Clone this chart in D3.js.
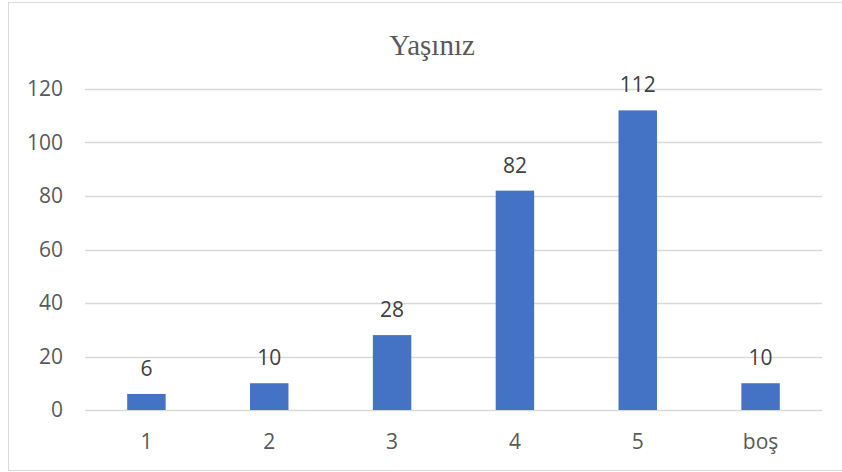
<!DOCTYPE html>
<html>
<head>
<meta charset="utf-8">
<script src="https://cdn.jsdelivr.net/npm/d3@7"></script>
<style>
  body { margin: 0; background: #fff; }
  svg { display: block; }
</style>
</head>
<body>
<div id="chart"></div>
<script>
// data
var categories = ["1", "2", "3", "4", "5", "boş"];
var counts = [6, 10, 28, 82, 112, 10];
var yTicks = [0, 20, 40, 60, 80, 100, 120];
var title = "Yaşınız";

var outerWidth = 842, outerHeight = 472;
var margin = {top: 89, right: 20, bottom: 62, left: 85};
var width = 822 - margin.left,
    height = 410 - margin.top;

var svg = d3.select("#chart").append("svg")
    .attr("width", outerWidth)
    .attr("height", outerHeight);

// chart border
svg.append("rect")
    .attr("x", 8.5).attr("y", 2.5)
    .attr("width", 850).attr("height", 468)
    .attr("fill", "none")
    .attr("stroke", "#d9d9d9")
    .attr("stroke-width", 1);

svg.append("text")
    .attr("x", 432)
    .attr("y", 55)
    .attr("text-anchor", "middle")
    .attr("font-family", "'Liberation Serif', 'Times New Roman', serif")
    .attr("font-size", 29)
    .attr("fill", "#595959")
    .text(title);

var g = svg.append("g")
    .attr("transform", "translate(" + margin.left + "," + margin.top + ")");

//////// SCALES ////////
var xScale = d3.scaleBand()
    .domain(categories)
    .range([0, width])
    .paddingInner(0.687)
    .paddingOuter(0.3435);

var yScale = d3.scaleLinear()
    .domain([0, 120])
    .range([height, 0]);

// gridlines
g.append("g")
    .attr("class", "grid")
    .selectAll("line")
    .data(yTicks)
    .enter().append("line")
        .attr("x1", 0)
        .attr("x2", width)
        .attr("y1", function(d) { return Math.round(yScale(d)) + 0.5; })
        .attr("y2", function(d) { return Math.round(yScale(d)) + 0.5; })
        .attr("stroke", "#d9d9d9")
        .attr("stroke-width", 1.5);

// y axis
var yAxis = g.append("g")
    .attr("class", "y axis")
    .call(d3.axisLeft(yScale).tickValues(yTicks).tickSize(0).tickPadding(22));
yAxis.select(".domain").remove();
yAxis.selectAll("text")
    .attr("font-family", "'Open Sans', sans-serif")
    .attr("font-size", 21)
    .attr("fill", "#595959");

// x axis
var xAxis = g.append("g")
    .attr("class", "x axis")
    .attr("transform", "translate(0," + height + ")")
    .call(d3.axisBottom(xScale).tickSize(0).tickPadding(24));
xAxis.select(".domain").remove();
xAxis.selectAll("text")
    .attr("font-family", "'Open Sans', sans-serif")
    .attr("font-size", 21)
    .attr("fill", "#595959");

// bars
var data = categories.map(function(c, i) { return {cat: c, value: counts[i]}; });

g.append("g")
    .selectAll("rect")
    .data(data)
    .enter().append("rect")
        .attr("x", function(d) { return xScale(d.cat); })
        .attr("y", function(d) { return yScale(d.value); })
        .attr("width", xScale.bandwidth())
        .attr("height", function(d) { return height - yScale(d.value); })
        .attr("fill", "#4472c4");

// labels
g.append("g")
    .selectAll("text")
    .data(data)
    .enter().append("text")
        .attr("x", function(d) { return xScale(d.cat) + xScale.bandwidth() / 2; })
        .attr("y", function(d) { return yScale(d.value) - 18; })
        .attr("text-anchor", "middle")
        .attr("font-family", "'Open Sans', sans-serif")
        .attr("font-size", 21)
        .attr("fill", "#404040")
        .text(function(d) { return d.value; });
</script>
</body>
</html>
